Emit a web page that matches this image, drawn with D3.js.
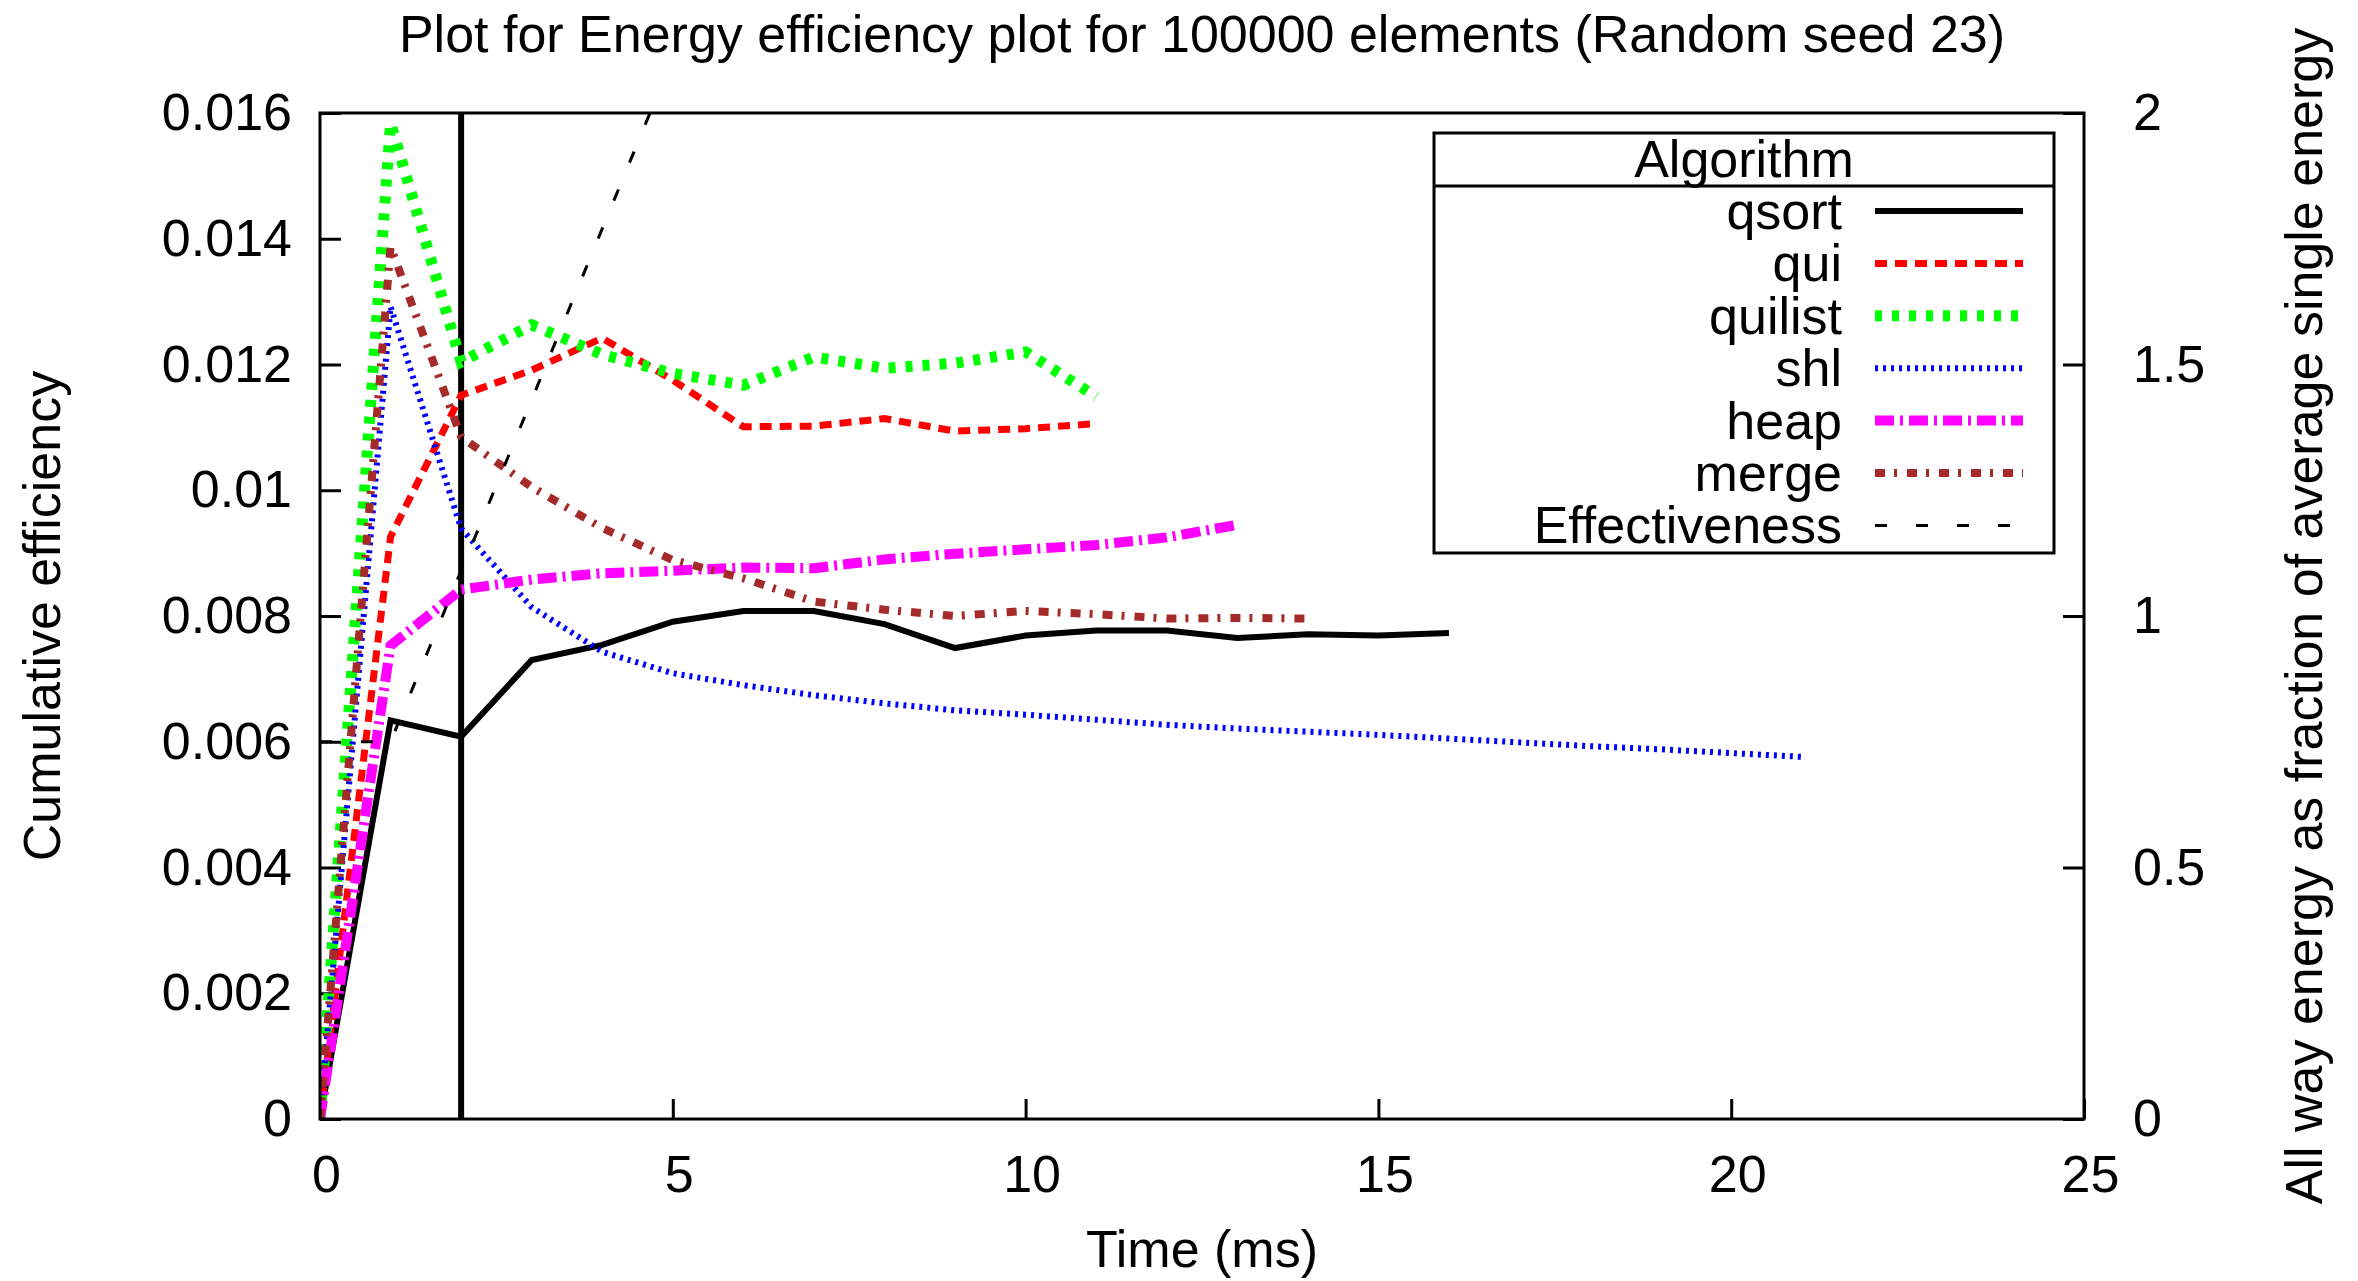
<!DOCTYPE html>
<html>
<head>
<meta charset="utf-8">
<script src="https://cdn.jsdelivr.net/npm/d3@7/dist/d3.min.js"></script>
<style>
  body { margin: 0; background: #fff; }
  text { font-family: "Liberation Sans", Arial, Helvetica, sans-serif; fill: #000; }
</style>
</head>
<body>
<script>
// time in ms, one sample per ms
const timeMs = [0, 1, 2, 3, 4, 5, 6, 7, 8, 9, 10, 11, 12, 13, 14, 15, 16, 17, 18, 19, 20, 21];

// cumulative efficiency per algorithm (left axis)
const qsort   = [0, 0.00634, 0.00608, 0.00730, 0.00754, 0.00791, 0.00808, 0.00808, 0.00787, 0.00749, 0.00769, 0.00777, 0.00777, 0.00765, 0.00771, 0.00769, 0.00773];
const qui     = [0, 0.00926, 0.01151, 0.01191, 0.01242, 0.01175, 0.01101, 0.01102, 0.01114, 0.01094, 0.01098, 0.01106];
const quilist = [0, 0.01584, 0.01204, 0.01263, 0.01216, 0.01186, 0.01167, 0.01212, 0.01194, 0.01202, 0.01220, 0.01149];
const shl     = [0, 0.01292, 0.00939, 0.00814, 0.00743, 0.00709, 0.00690, 0.00674, 0.00661, 0.00650, 0.00643, 0.00635, 0.00627, 0.00621, 0.00616, 0.00611, 0.00605, 0.00599, 0.00593, 0.00588, 0.00582, 0.00576];
const heap    = [0, 0.00753, 0.00842, 0.00858, 0.00868, 0.00872, 0.00877, 0.00876, 0.00890, 0.00899, 0.00906, 0.00913, 0.00925, 0.00945];
const merge   = [0, 0.01387, 0.01085, 0.01005, 0.00940, 0.00889, 0.00860, 0.00823, 0.00810, 0.00800, 0.00808, 0.00803, 0.00796, 0.00797, 0.00796];

// effectiveness (right axis)
const effectiveness = [0.75, 0.75, 1.09, 1.43, 1.77, 2.11];

// vertical marker
const markerTime = 2;

// ticks
const xTicks = [0, 5, 10, 15, 20, 25];
const yTicks = [0, 0.002, 0.004, 0.006, 0.008, 0.01, 0.012, 0.014, 0.016];
const y2Ticks = [0, 0.5, 1, 1.5, 2];

const series = [
  { name: "qsort",   values: qsort,   color: "#000000", width: 6,  dash: null },
  { name: "qui",     values: qui,     color: "#ff0000", width: 7,  dash: "12,8" },
  { name: "quilist", values: quilist, color: "#00ff00", width: 11, dash: "7,10" },
  { name: "shl",     values: shl,     color: "#0000ff", width: 6,  dash: "3,5" },
  { name: "heap",    values: heap,    color: "#ff00ff", width: 10, dash: "19,6,3,6" },
  { name: "merge",   values: merge,   color: "#a52a2a", width: 8,  dash: "10,9,3,10" }
];
const effStyle = { name: "Effectiveness", color: "#000000", width: 3, dash: "12,29" };

const svgWidth = 2358;
const svgHeight = 1281;
const margin = { top: 113, right: 274, bottom: 162, left: 320 };
const chartWidth = svgWidth - margin.left - margin.right;
const chartHeight = svgHeight - margin.top - margin.bottom;
const fontSize = 52;

const svg = d3.select("body")
  .append("svg")
  .attr("width", svgWidth)
  .attr("height", svgHeight);

svg.append("defs").append("clipPath")
  .attr("id", "plot-clip")
  .append("rect")
  .attr("width", chartWidth)
  .attr("height", chartHeight);

const chartGroup = svg.append("g")
  .attr("transform", `translate(${margin.left},${margin.top})`);

const xScale = d3.scaleLinear().domain([0, 25]).range([0, chartWidth]);
const yScale = d3.scaleLinear().domain([0, 0.016]).range([chartHeight, 0]);
const y2Scale = d3.scaleLinear().domain([0, 2]).range([chartHeight, 0]);

const fmtLeft = d => d === 0 ? "0" : String(+d.toFixed(3));

// axes (ticks point inward)
const xAxis = d3.axisBottom(xScale).tickValues(xTicks).tickSizeInner(-20).tickSizeOuter(0).tickPadding(36);
const yAxis = d3.axisLeft(yScale).tickValues(yTicks).tickFormat(fmtLeft).tickSizeInner(-21).tickSizeOuter(0).tickPadding(28);
const y2Axis = d3.axisRight(y2Scale).tickValues(y2Ticks).tickFormat(d => String(d)).tickSizeInner(-21).tickSizeOuter(0).tickPadding(49);

function styleAxis(g) {
  g.select(".domain").remove();
  g.selectAll(".tick line").attr("stroke", "#000").attr("stroke-width", 3);
  g.selectAll(".tick text").style("font-size", fontSize + "px").attr("fill", "#000");
}

chartGroup.append("g")
  .attr("transform", `translate(0,${chartHeight})`)
  .call(xAxis)
  .call(styleAxis)
  .selectAll(".tick text").attr("dx", 6);

chartGroup.append("g").call(yAxis).call(styleAxis);

chartGroup.append("g")
  .attr("transform", `translate(${chartWidth},0)`)
  .call(y2Axis)
  .call(styleAxis);

// vertical marker line
chartGroup.append("line")
  .attr("x1", xScale(markerTime)).attr("x2", xScale(markerTime))
  .attr("y1", yScale(0)).attr("y2", yScale(0.016))
  .attr("stroke", "#000")
  .attr("stroke-width", 6);

const plotArea = chartGroup.append("g").attr("clip-path", "url(#plot-clip)");

const line = d3.line()
  .x((d, i) => xScale(timeMs[i]))
  .y(d => yScale(d));

series.forEach(s => {
  plotArea.append("path")
    .datum(s.values)
    .attr("d", line)
    .attr("fill", "none")
    .attr("stroke", s.color)
    .attr("stroke-width", s.width)
    .attr("stroke-dasharray", s.dash)
    .attr("stroke-linejoin", "miter");
});

const line2 = d3.line()
  .x((d, i) => xScale(timeMs[i]))
  .y(d => y2Scale(d));

plotArea.append("path")
  .datum(effectiveness)
  .attr("d", line2)
  .attr("fill", "none")
  .attr("stroke", effStyle.color)
  .attr("stroke-width", effStyle.width)
  .attr("stroke-dasharray", effStyle.dash);

// frame
chartGroup.append("rect")
  .attr("width", chartWidth)
  .attr("height", chartHeight)
  .attr("fill", "none")
  .attr("stroke", "#000")
  .attr("stroke-width", 3);

// title & labels
svg.append("text")
  .attr("x", margin.left + chartWidth / 2)
  .attr("y", 52)
  .attr("text-anchor", "middle")
  .style("font-size", fontSize + "px")
  .text("Plot for Energy efficiency plot for 100000 elements (Random seed 23)");

svg.append("text")
  .attr("x", margin.left + chartWidth / 2)
  .attr("y", 1267)
  .attr("text-anchor", "middle")
  .style("font-size", fontSize + "px")
  .text("Time (ms)");

svg.append("text")
  .attr("transform", `translate(60,${margin.top + chartHeight / 2}) rotate(-90)`)
  .attr("text-anchor", "middle")
  .style("font-size", fontSize + "px")
  .text("Cumulative efficiency");

svg.append("text")
  .attr("transform", `translate(2322,${margin.top + chartHeight / 2}) rotate(-90)`)
  .attr("text-anchor", "middle")
  .style("font-size", fontSize + "px")
  .text("All way energy as fraction of average single energy");

// legend
const legendBox = { x: 1434, y: 133, w: 620, h: 420, header: 53 };
const legend = svg.append("g").attr("class", "legend");

legend.append("rect")
  .attr("x", legendBox.x).attr("y", legendBox.y)
  .attr("width", legendBox.w).attr("height", legendBox.h)
  .attr("fill", "#fff")
  .attr("stroke", "#000")
  .attr("stroke-width", 3);

legend.append("line")
  .attr("x1", legendBox.x).attr("x2", legendBox.x + legendBox.w)
  .attr("y1", legendBox.y + legendBox.header).attr("y2", legendBox.y + legendBox.header)
  .attr("stroke", "#000").attr("stroke-width", 3);

legend.append("text")
  .attr("x", legendBox.x + legendBox.w / 2)
  .attr("y", legendBox.y + 44)
  .attr("text-anchor", "middle")
  .style("font-size", fontSize + "px")
  .text("Algorithm");

const legendItems = series.concat([effStyle]);
const rowY = i => 211 + i * 52.4;

legend.selectAll("line.sample")
  .data(legendItems)
  .join("line")
  .attr("class", "sample")
  .attr("x1", 1875).attr("x2", 2023)
  .attr("y1", (d, i) => rowY(i)).attr("y2", (d, i) => rowY(i))
  .attr("stroke", d => d.color)
  .attr("stroke-width", d => d.width)
  .attr("stroke-dasharray", d => d.dash);

legend.selectAll("text.label")
  .data(legendItems)
  .join("text")
  .attr("class", "label")
  .attr("x", 1842)
  .attr("y", (d, i) => rowY(i) + 18)
  .attr("text-anchor", "end")
  .style("font-size", fontSize + "px")
  .text(d => d.name);
</script>
</body>
</html>
